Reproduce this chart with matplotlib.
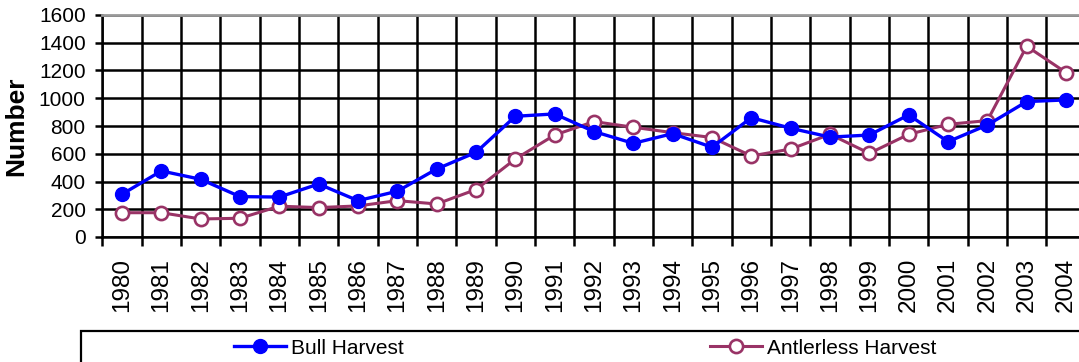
import numpy as np
import matplotlib
matplotlib.use("Agg")
import matplotlib.pyplot as plt
from matplotlib.patches import Rectangle

# dados
anos = [str(a) for a in range(1980, 2005)]
bull = [308, 476, 416, 291, 288, 382, 262, 330, 490, 610, 870, 887, 760, 675,
        745, 647, 860, 784, 720, 735, 880, 687, 807, 976, 988]
antlerless = [175, 175, 130, 135, 222, 212, 224, 262, 238, 342, 562, 735, 832, 791,
              752, 717, 584, 634, 740, 603, 740, 812, 839, 1375, 1185]
yticks = list(range(0, 1601, 200))

plt.rcParams['font.family'] = ['Liberation Sans', 'DejaVu Sans']

W, H = 1079, 362
fig = plt.figure(figsize=(W / 100, H / 100), dpi=100)
# area do grafico (a direita sai um pouco da imagem, como no original)
ax = fig.add_axes([102.3 / W, 1 - 237 / H, (1085.7 - 102.3) / W, (237 - 15) / H])

x = np.arange(len(anos))
ax.plot(x, bull, color='#0000FF', lw=2.4, marker='o', ms=10,
        mfc='#0000FF', mec='#0000FF', label='Bull Harvest', zorder=4)
ax.plot(x, antlerless, color='#993366', lw=2.2, marker='o', ms=9.5,
        mfc='white', mec='#993366', mew=1.9, label='Antlerless Harvest', zorder=3)

ax.set_xlim(-0.5, len(anos) - 0.5)
ax.set_ylim(0, 1600)
ax.set_yticks(yticks)
ax.set_yticklabels([str(v) for v in yticks], fontsize=15)
ax.set_xticks(x)
ax.set_xticklabels(anos, rotation=90, fontsize=17.5)
ax.set_xticks(np.arange(-0.5, len(anos)), minor=True)

# grelha preta: horizontais nos valores, verticais entre categorias
ax.grid(axis='y', which='major', color='black', lw=1.8)
ax.grid(axis='x', which='minor', color='black', lw=1.8)
ax.set_axisbelow(True)

ax.tick_params(axis='y', which='major', length=5, width=1.8, pad=7, direction='out')
ax.tick_params(axis='x', which='major', length=0, pad=15)
ax.tick_params(axis='x', which='minor', length=6.5, width=1.8, direction='out')

for s in ['left', 'bottom']:
    ax.spines[s].set_color('black')
    ax.spines[s].set_linewidth(1.8)
ax.spines['right'].set_visible(False)
ax.spines['top'].set_color('#999999')
ax.spines['top'].set_linewidth(2)

fig.text(16 / W, 1 - 126 / H, 'Number', rotation=90, ha='center', va='center',
         fontsize=19, fontweight='bold')

# caixa da legenda (sai da imagem a direita e em baixo)
fig.patches.append(Rectangle((81 / W, -0.1), 1.1, 0.1 + 1 - 331 / H,
                             transform=fig.transFigure, fill=False,
                             ec='black', lw=1.6))

h1, h2 = ax.get_lines()
fig.legend([h1], ['Bull Harvest'], loc='center left', frameon=False,
           bbox_to_anchor=(234 / W, 1 - 348 / H), borderpad=0, borderaxespad=0,
           handlelength=2.5, handletextpad=0.25, fontsize=15)
fig.legend([h2], ['Antlerless Harvest'], loc='center left', frameon=False,
           bbox_to_anchor=(710 / W, 1 - 348 / H), borderpad=0, borderaxespad=0,
           handlelength=2.5, handletextpad=0.25, fontsize=15)

fig.savefig('out.png', dpi=100)
